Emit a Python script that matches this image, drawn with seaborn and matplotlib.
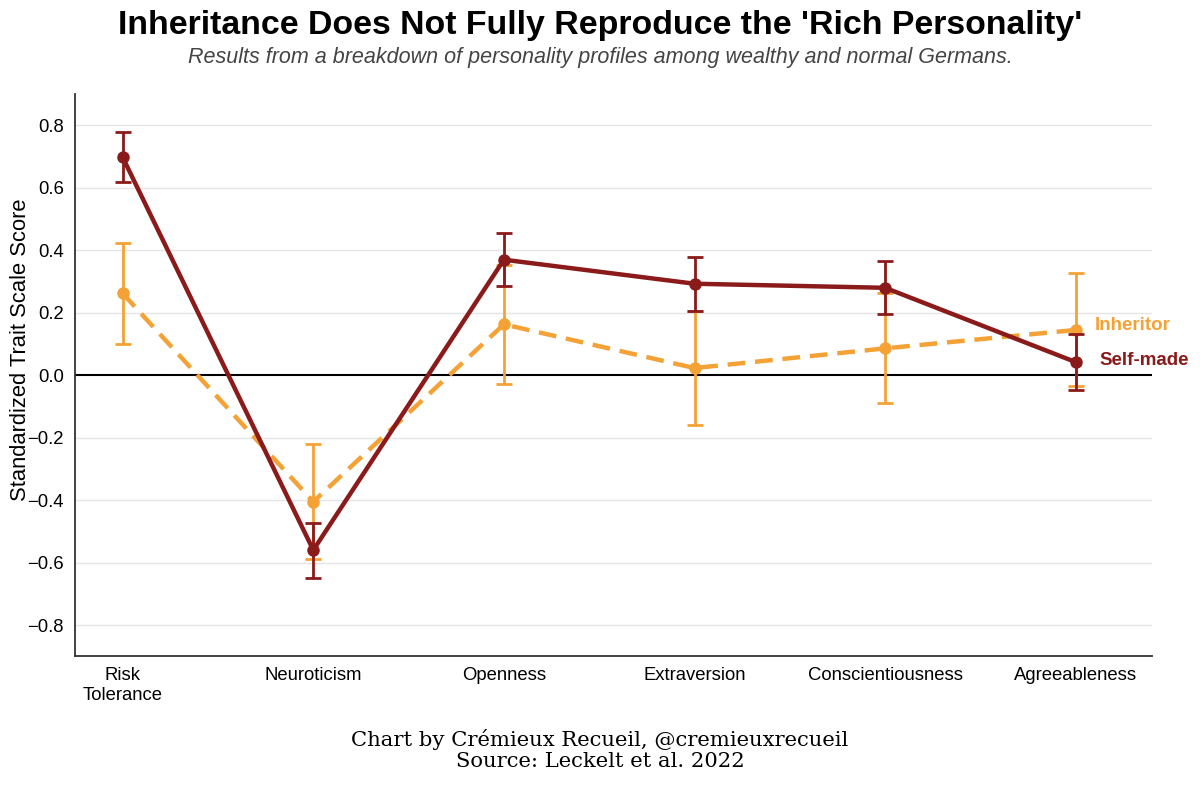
import numpy as np
import pandas as pd
import matplotlib
matplotlib.use("Agg")
import matplotlib.pyplot as plt
import seaborn as sns

# Trait order and read-off values
traits = ["Risk\nTolerance", "Neuroticism", "Openness", "Extraversion",
          "Conscientiousness", "Agreeableness"]
self_made = [0.698, -0.560, 0.370, 0.293, 0.280, 0.042]
self_made_err = [0.080, 0.088, 0.085, 0.087, 0.085, 0.090]
inheritor = [0.262, -0.405, 0.163, 0.023, 0.086, 0.145]
inheritor_err = [0.162, 0.184, 0.190, 0.182, 0.176, 0.181]

maroon = "#8B1A1A"
orange = "#F4A236"

df = pd.DataFrame({
    "trait": traits * 2,
    "score": inheritor + self_made,
    "group": ["Inheritor"] * len(traits) + ["Self-made"] * len(traits),
})

sns.set_style("white")
plt.rcParams["font.family"] = ["Liberation Sans", "DejaVu Sans"]
plt.rcParams["text.color"] = "black"
plt.rcParams["axes.labelcolor"] = "black"
plt.rcParams["xtick.color"] = "black"
plt.rcParams["ytick.color"] = "black"

fig = plt.figure(figsize=(12, 7.85), dpi=100)
ax = fig.add_axes([0.0625, 0.164, 0.8975, 0.716])

ax.axhline(0, color="black", lw=1.5, zorder=1)
for yv in np.arange(-0.8, 0.81, 0.2):
    if abs(yv) > 1e-9:
        ax.axhline(yv, color="#e5e5e5", lw=1, zorder=0)

x = np.arange(len(traits))

# inheritor first so self-made sits on top
ax.errorbar(x, inheritor, yerr=inheritor_err, fmt="none", ecolor=orange,
            elinewidth=2, capsize=6, capthick=2, zorder=2)
sns.lineplot(data=df, x="trait", y="score", hue="group", style="group",
             palette={"Inheritor": orange, "Self-made": maroon},
             dashes={"Inheritor": (4, 2.2), "Self-made": ""},
             markers={"Inheritor": "o", "Self-made": "o"},
             markersize=9, markeredgewidth=0, lw=3.2, sort=False,
             legend=False, ax=ax, zorder=3)
ax.errorbar(x, self_made, yerr=self_made_err, fmt="none", ecolor=maroon,
            elinewidth=2, capsize=6, capthick=2, zorder=4)
# bring self-made line above inheritor error bars
for line in ax.lines:
    if line.get_color() == maroon:
        line.set_zorder(5)

ax.text(x[-1] + 0.1, inheritor[-1] + 0.015, "Inheritor", color=orange,
        fontsize=13.5, fontweight="bold", va="center", ha="left")
ax.text(x[-1] + 0.125, self_made[-1] + 0.005, "Self-made", color=maroon,
        fontsize=13.5, fontweight="bold", va="center", ha="left")

ax.set_xlim(-0.25, 5.4)
ax.set_ylim(-0.9, 0.9)
ax.set_yticks(np.round(np.arange(-0.8, 0.81, 0.2), 1))
ax.set_xticks(x)
ax.set_xticklabels(traits)
ax.tick_params(axis="both", labelsize=13.3, length=0, pad=8)
ax.set_xlabel("")
ax.set_ylabel("Standardized Trait Scale Score", fontsize=15.8)
ax.yaxis.set_label_coords(-0.041, 0.545)
ax.grid(False)
sns.despine(ax=ax)
for s in ["left", "bottom"]:
    ax.spines[s].set_color("#333333")
    ax.spines[s].set_linewidth(1.3)

fig.text(0.5, 0.968, "Inheritance Does Not Fully Reproduce the 'Rich Personality'",
         ha="center", va="center", fontsize=24.4, fontweight="bold")
fig.text(0.5, 0.927, "Results from a breakdown of personality profiles among wealthy and normal Germans.",
         ha="center", va="center", fontsize=15.5, style="italic", color="#444444")
fig.text(0.5, 0.045, "Chart by Crémieux Recueil, @cremieuxrecueil\nSource: Leckelt et al. 2022",
         ha="center", va="center", fontsize=15.2, family="DejaVu Serif",
         linespacing=1.15)

fig.savefig("out.png", dpi=100)
